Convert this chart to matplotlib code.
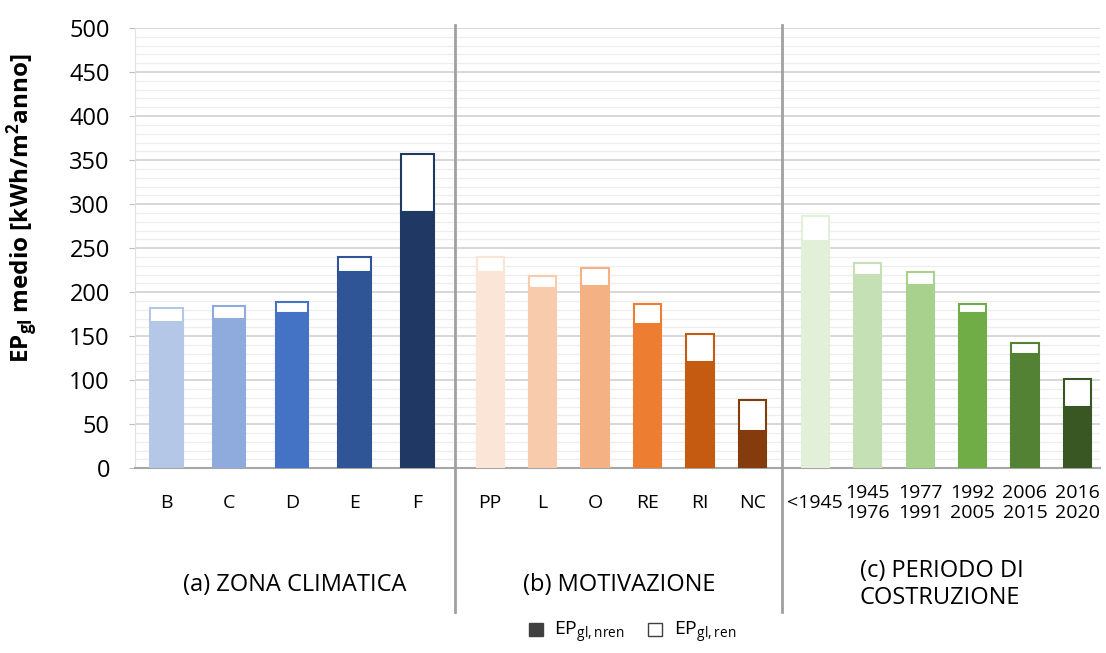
import matplotlib
matplotlib.use("Agg")
import matplotlib.pyplot as plt
from matplotlib.patches import Patch
from matplotlib.lines import Line2D
from matplotlib.ticker import MultipleLocator

plt.rcParams['font.family'] = ['Open Sans', 'DejaVu Sans']
plt.rcParams['mathtext.default'] = 'regular'

# (a) zona climatica
zona_cat = ['B', 'C', 'D', 'E', 'F']
zona_nren = [166, 170, 176, 223, 291]
zona_ren = [16, 14, 13, 17, 66]
zona_col = ['#b4c7e7', '#8faadc', '#4472c4', '#2f5597', '#203864']

# (b) motivazione
motiv_cat = ['PP', 'L', 'O', 'RE', 'RI', 'NC']
motiv_nren = [223, 205, 207, 164, 121, 42]
motiv_ren = [17, 13, 21, 22, 31, 35]
motiv_col = ['#fbe5d6', '#f8cbad', '#f4b183', '#ed7d31', '#c55a11', '#843c0c']

# (c) periodo di costruzione
periodo_cat = ['<1945', '1945\n1976', '1977\n1991', '1992\n2005', '2006\n2015', '2016\n2020']
periodo_nren = [258, 219, 208, 176, 130, 69]
periodo_ren = [29, 14, 15, 10, 12, 32]
periodo_col = ['#e2f0d9', '#c5e0b4', '#a9d18e', '#70ad47', '#548235', '#385723']

gruppi = [
    ('(a) ZONA CLIMATICA', zona_cat, zona_nren, zona_ren, zona_col, (-0.5, 4.6)),
    ('(b) MOTIVAZIONE', motiv_cat, motiv_nren, motiv_ren, motiv_col, (-0.67, 5.57)),
    ('(c) PERIODO DI\nCOSTRUZIONE', periodo_cat, periodo_nren, periodo_ren, periodo_col, (-0.63, 5.44)),
]

fig = plt.figure(figsize=(11.06, 6.53), dpi=100)
gs = fig.add_gridspec(1, 3, width_ratios=[320, 327, 318], wspace=0,
                      left=0.122, right=0.995, bottom=0.283, top=0.957)

axes = []
for i, (titolo, cat, nren, ren, col, xl) in enumerate(gruppi):
    ax = fig.add_subplot(gs[0, i], sharey=axes[0] if axes else None)
    x = list(range(len(cat)))
    ax.bar(x, nren, width=0.52, color=col, edgecolor=col, linewidth=1.5, zorder=3)
    ax.bar(x, ren, width=0.52, bottom=nren, color='white', edgecolor=col, linewidth=1.5, zorder=3)
    ax.set_xlim(*xl)
    ax.set_ylim(0, 500)
    ax.yaxis.set_major_locator(MultipleLocator(50))
    ax.yaxis.set_minor_locator(MultipleLocator(10))
    ax.grid(axis='y', which='major', color='#d4d4d4', linewidth=1.3, zorder=0)
    ax.grid(axis='y', which='minor', color='#eeeeee', linewidth=0.9, zorder=0)
    ax.set_xticks(x)
    ax.set_xticklabels(cat, fontsize=14, va='center', linespacing=1.1)
    ax.tick_params(axis='x', length=0, pad=25)
    for s in ['top', 'right', 'left']:
        ax.spines[s].set_visible(False)
    ax.spines['bottom'].set_color('#a6a6a6')
    ax.spines['bottom'].set_linewidth(1.5)
    ax.text(0.5, -0.265, titolo, transform=ax.transAxes, ha='center', va='center',
            multialignment='left', fontsize=17, linespacing=1.15)
    if i == 0:
        ax.tick_params(axis='y', which='major', labelsize=17, length=4, color='#bfbfbf', pad=14)
        ax.tick_params(axis='y', which='minor', length=0)
        ax.spines['left'].set_visible(True)
        ax.spines['left'].set_color('#e0e0e0')
        ax.set_ylabel('EP$_{gl}$ medio [kWh/m$^{2}$anno]', fontsize=17.5, fontweight='bold')
        ax.yaxis.set_label_coords(-0.30, 0.59)
    else:
        ax.tick_params(axis='y', which='both', left=False, labelleft=False)
    axes.append(ax)

# linee di separazione tra i gruppi
for ax in axes[1:]:
    x0 = ax.get_position().x0
    fig.add_artist(Line2D([x0, x0], [0.063, 0.962], color='#a0a0a0', linewidth=2))

handles = [Patch(facecolor='#404040', edgecolor='#404040'),
           Patch(facecolor='white', edgecolor='#404040')]
fig.legend(handles, ['EP$_{gl,nren}$', 'EP$_{gl,ren}$'], loc='lower center',
           bbox_to_anchor=(0.572, -0.015), ncol=2, frameon=False, fontsize=14,
           handlelength=0.7, handleheight=0.7, columnspacing=1.2, handletextpad=0.6)

fig.savefig('out.png', dpi=100)
